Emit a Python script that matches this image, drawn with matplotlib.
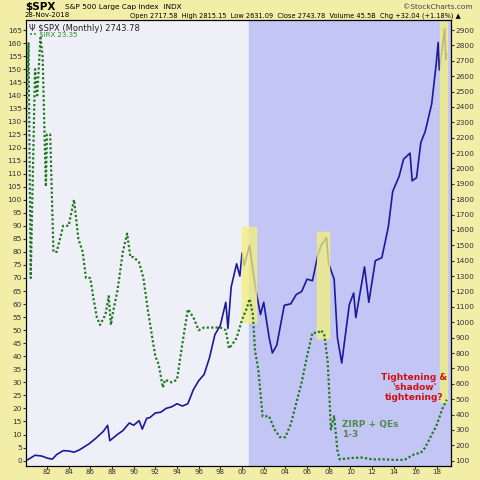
import matplotlib
matplotlib.use('Agg')
import matplotlib.pyplot as plt

# $SPX monthly close (approx), decimal year / value
spx_t = [1980.0, 1980.2, 1980.9, 1981.5, 1982.1, 1982.5, 1982.9, 1983.5, 1984.0, 1984.5, 1985.0,
         1985.9, 1986.5, 1987.2, 1987.6, 1987.8, 1988.5, 1989.0, 1989.6, 1990.0, 1990.5, 1990.8,
         1991.2, 1991.5, 1992.0, 1992.5, 1993.0, 1993.5, 1994.0, 1994.5, 1995.0, 1995.5,
         1996.0, 1996.5, 1997.0, 1997.5, 1998.0, 1998.5, 1998.7, 1999.0, 1999.5, 1999.8,
         2000.0, 2000.2, 2000.7, 2001.0, 2001.3, 2001.7, 2002.0, 2002.5, 2002.8, 2003.2,
         2003.9, 2004.5, 2005.0, 2005.5, 2006.0, 2006.5, 2007.0, 2007.3, 2007.8, 2008.0,
         2008.5, 2008.8, 2009.2, 2009.9, 2010.3, 2010.5, 2011.3, 2011.7, 2012.3, 2012.9,
         2013.5, 2013.9, 2014.5, 2014.9, 2015.5, 2015.7, 2016.1, 2016.5, 2016.9, 2017.5,
         2017.9, 2018.1, 2018.2, 2018.7, 2018.8, 2018.9]
spx_v = [110, 105, 135, 130, 115, 110, 140, 165, 163, 155, 170,
         210, 245, 290, 330, 230, 270, 295, 345, 330, 360, 305,
         375, 380, 410, 415, 440, 450, 470, 455, 470, 560,
         620, 660, 770, 920, 980, 1130, 960, 1230, 1380, 1300,
         1450, 1370, 1500, 1340, 1200, 1050, 1130, 900, 800, 850,
         1110, 1120, 1180, 1200, 1280, 1270, 1440, 1500, 1550, 1380,
         1280, 900, 735, 1115, 1190, 1030, 1360, 1130, 1400, 1420,
         1620, 1850, 1950, 2060, 2100, 1920, 1940, 2170, 2240, 2420,
         2670, 2820, 2640, 2910, 2710, 2744]

# $IRX (13-week T-bill yield x10)
irx_t = [1980.0, 1980.3, 1980.5, 1980.9, 1981.1, 1981.4, 1981.6, 1981.9, 1982.0, 1982.3, 1982.6,
         1982.9, 1983.5, 1984.0, 1984.5, 1984.9, 1985.3, 1985.6, 1986.0, 1986.3, 1986.6, 1986.9,
         1987.4, 1987.7, 1987.9, 1988.1, 1988.5, 1989.0, 1989.4, 1989.7, 1990.0, 1990.5, 1990.9,
         1991.3, 1991.8, 1992.0, 1992.3, 1992.7, 1992.9, 1993.5, 1994.0, 1994.5, 1995.0, 1995.5,
         1996.0, 1996.5, 1997.0, 1997.5, 1998.0, 1998.5, 1998.8, 1999.0, 1999.5, 2000.0, 2000.4,
         2000.7, 2001.0, 2001.2, 2001.5, 2001.9, 2002.5, 2003.0, 2003.5, 2004.0, 2004.5, 2005.0,
         2005.5, 2006.0, 2006.5, 2007.0, 2007.3, 2007.6, 2007.9, 2008.0, 2008.2, 2008.5, 2008.8,
         2009.0, 2010.0, 2011.0, 2012.0, 2013.0, 2014.0, 2015.0, 2015.9, 2016.5, 2016.9, 2017.5,
         2017.9, 2018.5, 2018.9]
irx_v = [120, 160, 70, 150, 140, 162, 155, 105, 125, 125, 80,
         80, 90, 90, 100, 85, 80, 70, 70, 62, 55, 52,
         56, 63, 52, 57, 65, 80, 87, 78, 78, 76, 70,
         58, 45, 40, 37, 28, 31, 30, 31, 45, 58, 55,
         50, 51, 51, 51, 51, 50, 43, 44, 47, 54, 58,
         62, 56, 42, 35, 17, 17, 12, 9, 9, 14, 22,
         30, 40, 49, 49, 50, 48, 38, 30, 12, 17, 4,
         0.5, 1, 1.2, 0.5, 0.5, 0.3, 0.3, 2.5, 3, 5, 10,
         13, 20, 23.35]

years = list(range(1982, 2019, 2))
year_labels = ['%02d' % (y % 100) for y in years]
left_ticks = list(range(0, 166, 5))
right_ticks = list(range(100, 2901, 100))


def to_right(v):
    return 100 + v * 2800 / 165


fig = plt.figure(figsize=(4.8, 4.8), dpi=100, facecolor='#f2eea8')
ax = fig.add_axes([0.054, 0.03, 0.886, 0.928])
ax2 = ax.twinx()
ax2.set_facecolor('#eff0f7')
ax2.patch.set_visible(True)
ax.set_zorder(2)
ax.patch.set_visible(False)
ax2.set_zorder(1)

ymin, ymax = -1.9, 168.8
ax.set_ylim(ymin, ymax)
ax2.set_ylim(to_right(ymin), to_right(ymax))
ax.set_xlim(1980.06, 2019.3)

# shading / highlights (on SPX scale)
ax2.axvspan(2000.65, 2019.3, color='#c3c5f5', zorder=0)
ax2.fill_between([2000.0, 2001.3], 1000, 1620, color='#f3f07a', alpha=0.75, zorder=3)
ax2.fill_between([2006.9, 2008.0], 900, 1590, color='#f3f07a', alpha=0.75, zorder=3)
ax2.fill_between([2018.3, 2018.9], 480, 2950, color='#f3f07a', alpha=0.75, zorder=3)

ax2.plot(spx_t, spx_v, color='#1a1a9c', lw=1.2, zorder=2)
ax.plot(irx_t, irx_v, color='#1f7a1f', lw=1.6, ls=(0, (1, 1)))

ax.set_xticks(years)
ax.set_xticklabels(year_labels)
ax.set_yticks(left_ticks)
ax2.set_yticks(right_ticks)
for a in (ax, ax2):
    a.tick_params(labelsize=5.3, length=2, pad=1, colors='#333333')
ax.tick_params(axis='x', pad=0.5, labelsize=5)

ax.text(1980.3, 167.5, '\u03a8 $SPX (Monthly) 2743.78', fontsize=6, color='#222222', va='top')
ax.text(1980.3, 164.2, '\u2022\u2022 $IRX 23.35', fontsize=5, color='#2a8a2a', va='top')
ax.text(2015.9, 28, "Tightening &\n'shadow'\ntightening?", fontsize=6.5, color='#d01010',
        fontweight='bold', ha='center', va='center', linespacing=1.2)
ax.text(2009.2, 12, 'ZIRP + QEs\n1-3', fontsize=6.5, color='#4e8a4e', fontweight='bold',
        ha='left', va='center', linespacing=1.2)

fig.text(0.052, 0.986, '$SPX', fontsize=7.5, fontweight='bold', va='center')
fig.text(0.135, 0.986, 'S&P 500 Large Cap Index  INDX', fontsize=5.3, va='center')
fig.text(0.985, 0.986, '\u00a9StockCharts.com', fontsize=5.3, va='center', ha='right', color='#444444')
fig.text(0.052, 0.968, '28-Nov-2018', fontsize=5, va='center')
fig.text(0.96, 0.968, 'Open 2717.58  High 2815.15  Low 2631.09  Close 2743.78  Volume 45.5B  Chg +32.04 (+1.18%) \u25b2',
         fontsize=4.8, va='center', ha='right')

fig.savefig('out.png', dpi=100, facecolor=fig.get_facecolor())
